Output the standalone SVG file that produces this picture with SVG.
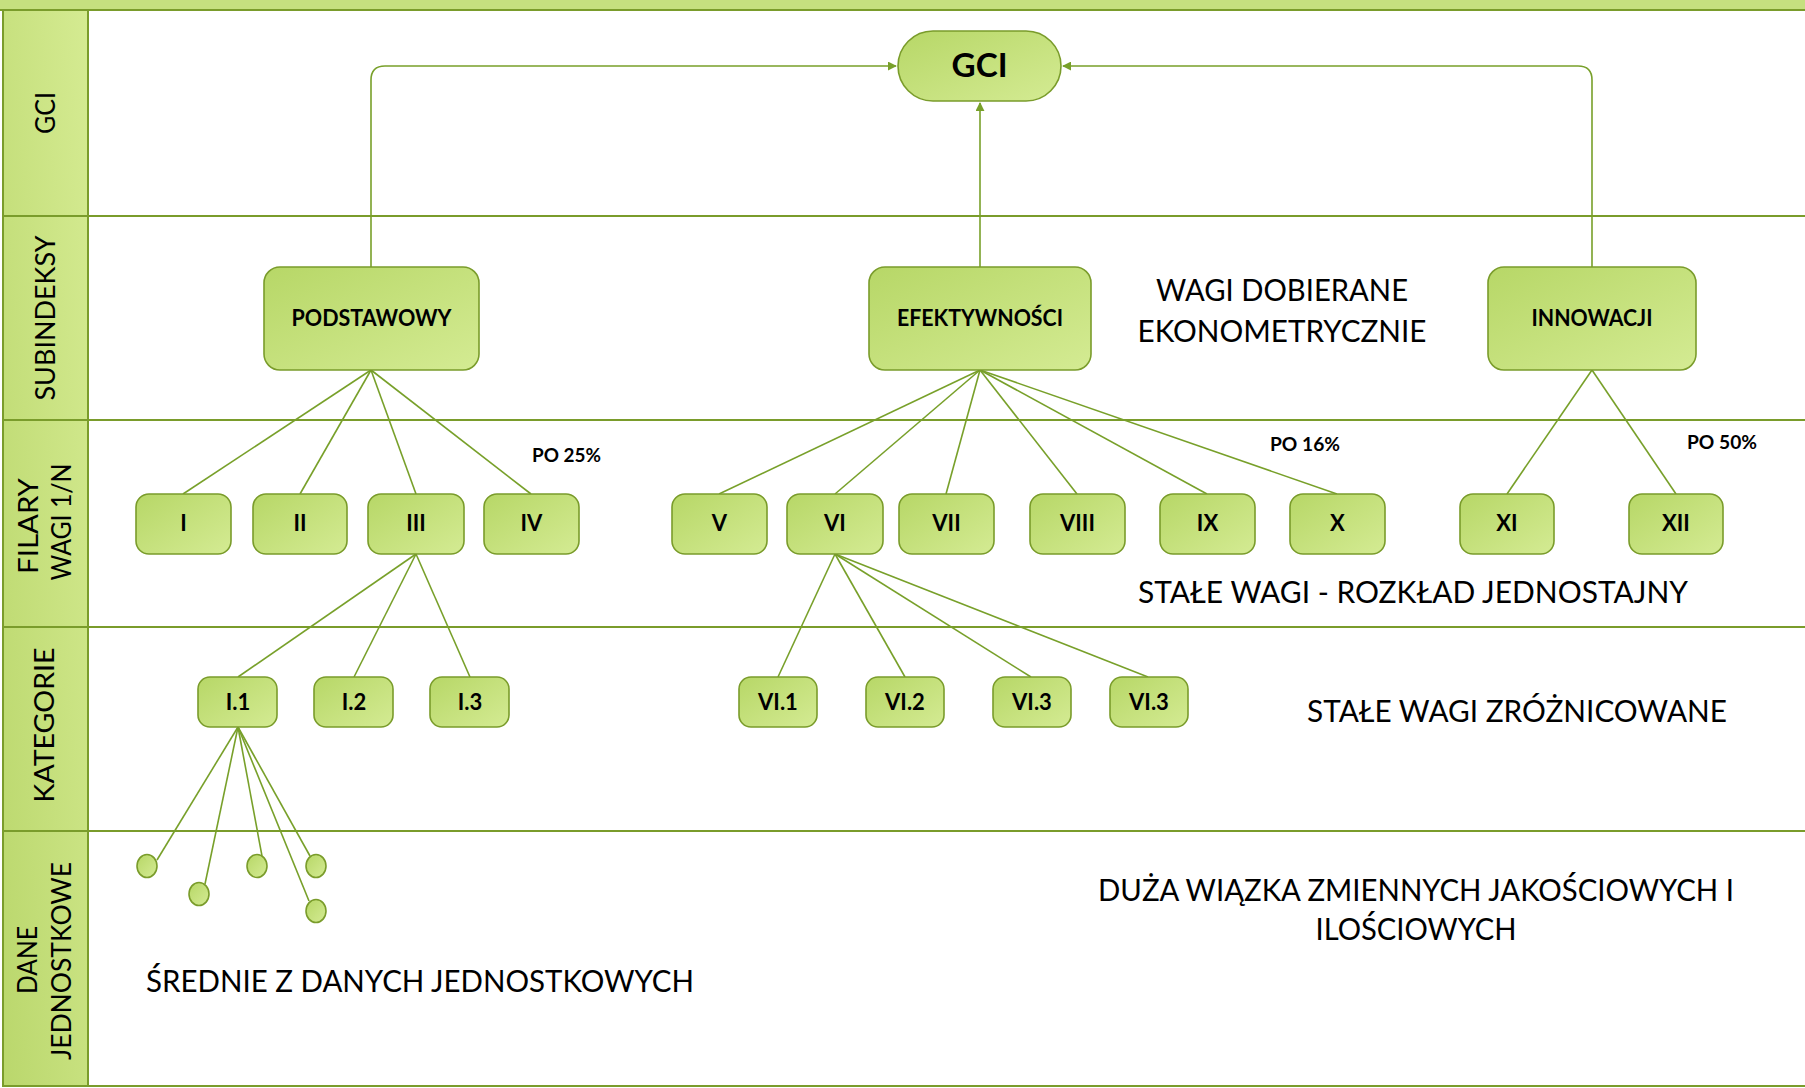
<svg xmlns="http://www.w3.org/2000/svg" width="1805" height="1088" viewBox="0 0 1805 1088">
<defs>
<linearGradient id="gNode" x1="0" y1="0" x2="1" y2="1">
<stop offset="0" stop-color="#b7d767"/>
<stop offset="1" stop-color="#d4eb93"/>
</linearGradient>
<linearGradient id="gCol" x1="1" y1="0" x2="0" y2="1">
<stop offset="0" stop-color="#d5eb92"/>
<stop offset="1" stop-color="#bad76c"/>
</linearGradient>
<marker id="arr" viewBox="0 0 10 10" refX="9" refY="5" markerWidth="9" markerHeight="9" markerUnits="userSpaceOnUse" orient="auto">
<path d="M0,0 L10,5 L0,10 Z" fill="#78a02a"/>
</marker>
<style>
.lane{stroke:#7a9c2b;stroke-width:2;fill:none}
.node{fill:url(#gNode);stroke:#7a9c2b;stroke-width:1.6}
.con{stroke:#78a02a;stroke-width:1.6;fill:none}
.lbl{font-family:Lato,"Open Sans","Liberation Sans",sans-serif;fill:#000;text-anchor:middle}
.b{font-weight:700}
.lane-t{font-family:Lato,"Open Sans","Liberation Sans",sans-serif;font-size:26px;fill:#000;text-anchor:middle}
.desc{font-family:Lato,"Open Sans","Liberation Sans",sans-serif;font-size:30px;fill:#000;text-anchor:middle}
.po{font-family:Lato,"Open Sans","Liberation Sans",sans-serif;font-size:18px;font-weight:700;fill:#000}
</style>
</defs>
<rect width="1805" height="1088" fill="#ffffff"/>

<g id="lanes">
<rect x="0" y="0" width="1805" height="10" fill="#c5e07f"/>
<line class="lane" x1="0" y1="10" x2="1805" y2="10"/>
<rect x="3" y="10" width="85" height="1076" fill="url(#gCol)" stroke="#7a9c2b" stroke-width="2"/>
<line class="lane" x1="3" y1="216" x2="1805" y2="216"/>
<line class="lane" x1="3" y1="420" x2="1805" y2="420"/>
<line class="lane" x1="3" y1="627" x2="1805" y2="627"/>
<line class="lane" x1="3" y1="831" x2="1805" y2="831"/>
<line class="lane" x1="3" y1="1086" x2="1805" y2="1086"/>
<text class="lane-t" transform="translate(55,113) rotate(-90)" textLength="42" lengthAdjust="spacingAndGlyphs">GCI</text>
<text class="lane-t" transform="translate(55,318) rotate(-90)" textLength="165" lengthAdjust="spacingAndGlyphs">SUBINDEKSY</text>
<text class="lane-t" transform="translate(38,526) rotate(-90)" textLength="96" lengthAdjust="spacingAndGlyphs">FILARY</text>
<text class="lane-t" transform="translate(71,522) rotate(-90)" textLength="117" lengthAdjust="spacingAndGlyphs">WAGI 1/N</text>
<text class="lane-t" transform="translate(54,725) rotate(-90)" textLength="155" lengthAdjust="spacingAndGlyphs">KATEGORIE</text>
<text class="lane-t" transform="translate(37,960) rotate(-90)" textLength="68" lengthAdjust="spacingAndGlyphs">DANE</text>
<text class="lane-t" transform="translate(71,961) rotate(-90)" textLength="198" lengthAdjust="spacingAndGlyphs">JEDNOSTKOWE</text>
</g>

<g id="connectors">
<path class="con" d="M371,267 V80 Q371,66 385,66 H896" marker-end="url(#arr)"/>
<path class="con" d="M1592,267 V80 Q1592,66 1578,66 H1063" marker-end="url(#arr)"/>
<path class="con" d="M980,267 V103" marker-end="url(#arr)"/>
<line class="con" x1="371" y1="370" x2="183" y2="494"/>
<line class="con" x1="371" y1="370" x2="300" y2="494"/>
<line class="con" x1="371" y1="370" x2="416" y2="494"/>
<line class="con" x1="371" y1="370" x2="531" y2="494"/>
<line class="con" x1="980" y1="370" x2="719" y2="494"/>
<line class="con" x1="980" y1="370" x2="835" y2="494"/>
<line class="con" x1="980" y1="370" x2="946" y2="494"/>
<line class="con" x1="980" y1="370" x2="1077" y2="494"/>
<line class="con" x1="980" y1="370" x2="1207" y2="494"/>
<line class="con" x1="980" y1="370" x2="1337" y2="494"/>
<line class="con" x1="1592" y1="370" x2="1507" y2="494"/>
<line class="con" x1="1592" y1="370" x2="1676" y2="494"/>
<line class="con" x1="416" y1="554" x2="238" y2="677"/>
<line class="con" x1="416" y1="554" x2="354" y2="677"/>
<line class="con" x1="416" y1="554" x2="470" y2="677"/>
<line class="con" x1="835" y1="554" x2="778" y2="677"/>
<line class="con" x1="835" y1="554" x2="905" y2="677"/>
<line class="con" x1="835" y1="554" x2="1031" y2="677"/>
<line class="con" x1="835" y1="554" x2="1148" y2="677"/>
<line class="con" x1="238" y1="727" x2="157" y2="860"/>
<line class="con" x1="238" y1="727" x2="205" y2="884"/>
<line class="con" x1="238" y1="727" x2="262" y2="856"/>
<line class="con" x1="238" y1="727" x2="310" y2="856"/>
<line class="con" x1="238" y1="727" x2="309" y2="901"/>
</g>

<g id="n-gci"><rect class="node" x="898" y="31" width="163" height="70" rx="35"/><text class="lbl b" x="979.5" y="77" font-size="33" textLength="56" lengthAdjust="spacingAndGlyphs">GCI</text></g>
<g id="n-podstawowy"><rect class="node" x="264" y="267" width="215" height="103" rx="16"/><text class="lbl b" x="371.5" y="326" font-size="23" textLength="160" lengthAdjust="spacingAndGlyphs">PODSTAWOWY</text></g>
<g id="n-efektywnosci"><rect class="node" x="869" y="267" width="222" height="103" rx="16"/><text class="lbl b" x="980" y="326" font-size="23" textLength="166" lengthAdjust="spacingAndGlyphs">EFEKTYWNOŚCI</text></g>
<g id="n-innowacji"><rect class="node" x="1488" y="267" width="208" height="103" rx="16"/><text class="lbl b" x="1592" y="326" font-size="23" textLength="121" lengthAdjust="spacingAndGlyphs">INNOWACJI</text></g>

<g id="n-I"><rect class="node" x="136" y="494" width="95" height="60" rx="13"/><text class="lbl b" x="183.5" y="531" font-size="22">I</text></g>
<g id="n-II"><rect class="node" x="253" y="494" width="94" height="60" rx="13"/><text class="lbl b" x="300" y="531" font-size="22">II</text></g>
<g id="n-III"><rect class="node" x="368" y="494" width="96" height="60" rx="13"/><text class="lbl b" x="416" y="531" font-size="22">III</text></g>
<g id="n-IV"><rect class="node" x="484" y="494" width="95" height="60" rx="13"/><text class="lbl b" x="531.5" y="531" font-size="22">IV</text></g>
<g id="n-V"><rect class="node" x="672" y="494" width="95" height="60" rx="13"/><text class="lbl b" x="719.5" y="531" font-size="22">V</text></g>
<g id="n-VI"><rect class="node" x="787" y="494" width="96" height="60" rx="13"/><text class="lbl b" x="835" y="531" font-size="22">VI</text></g>
<g id="n-VII"><rect class="node" x="899" y="494" width="95" height="60" rx="13"/><text class="lbl b" x="946.5" y="531" font-size="22">VII</text></g>
<g id="n-VIII"><rect class="node" x="1030" y="494" width="95" height="60" rx="13"/><text class="lbl b" x="1077.5" y="531" font-size="22">VIII</text></g>
<g id="n-IX"><rect class="node" x="1160" y="494" width="95" height="60" rx="13"/><text class="lbl b" x="1207.5" y="531" font-size="22">IX</text></g>
<g id="n-X"><rect class="node" x="1290" y="494" width="95" height="60" rx="13"/><text class="lbl b" x="1337.5" y="531" font-size="22">X</text></g>
<g id="n-XI"><rect class="node" x="1460" y="494" width="94" height="60" rx="13"/><text class="lbl b" x="1507" y="531" font-size="22">XI</text></g>
<g id="n-XII"><rect class="node" x="1629" y="494" width="94" height="60" rx="13"/><text class="lbl b" x="1676" y="531" font-size="22">XII</text></g>

<g id="n-I1"><rect class="node" x="198" y="677" width="79" height="50" rx="12"/><text class="lbl b" x="238" y="710" font-size="22">I.1</text></g>
<g id="n-I2"><rect class="node" x="314" y="677" width="79" height="50" rx="12"/><text class="lbl b" x="354" y="710" font-size="22">I.2</text></g>
<g id="n-I3"><rect class="node" x="430" y="677" width="79" height="50" rx="12"/><text class="lbl b" x="470" y="710" font-size="22">I.3</text></g>
<g id="n-VI1"><rect class="node" x="739" y="677" width="78" height="50" rx="12"/><text class="lbl b" x="778" y="710" font-size="22">VI.1</text></g>
<g id="n-VI2"><rect class="node" x="866" y="677" width="78" height="50" rx="12"/><text class="lbl b" x="905" y="710" font-size="22">VI.2</text></g>
<g id="n-VI3a"><rect class="node" x="993" y="677" width="78" height="50" rx="12"/><text class="lbl b" x="1032" y="710" font-size="22">VI.3</text></g>
<g id="n-VI3b"><rect class="node" x="1110" y="677" width="78" height="50" rx="12"/><text class="lbl b" x="1149" y="710" font-size="22">VI.3</text></g>

<g id="n-d1"><ellipse class="node" cx="147" cy="866" rx="10" ry="11.5"/></g>
<g id="n-d2"><ellipse class="node" cx="199" cy="894" rx="10" ry="11.5"/></g>
<g id="n-d3"><ellipse class="node" cx="257" cy="866" rx="10" ry="11.5"/></g>
<g id="n-d4"><ellipse class="node" cx="316" cy="866" rx="10" ry="11.5"/></g>
<g id="n-d5"><ellipse class="node" cx="316" cy="911" rx="10" ry="11.5"/></g>

<g id="texts">
<text class="desc" x="1282" y="301" textLength="252" lengthAdjust="spacingAndGlyphs">WAGI DOBIERANE</text>
<text class="desc" x="1282" y="342" textLength="289" lengthAdjust="spacingAndGlyphs">EKONOMETRYCZNIE</text>
<text class="desc" x="1413" y="603" textLength="550" lengthAdjust="spacingAndGlyphs">STAŁE WAGI - ROZKŁAD JEDNOSTAJNY</text>
<text class="desc" x="1517" y="722" textLength="420" lengthAdjust="spacingAndGlyphs">STAŁE WAGI ZRÓŻNICOWANE</text>
<text class="desc" x="1416" y="901" textLength="636" lengthAdjust="spacingAndGlyphs">DUŻA WIĄZKA ZMIENNYCH JAKOŚCIOWYCH I</text>
<text class="desc" x="1416" y="940" textLength="201" lengthAdjust="spacingAndGlyphs">ILOŚCIOWYCH</text>
<text class="desc" x="420" y="992" textLength="548" lengthAdjust="spacingAndGlyphs">ŚREDNIE Z DANYCH JEDNOSTKOWYCH</text>
<text class="po" x="532" y="462" textLength="69" lengthAdjust="spacingAndGlyphs">PO 25%</text>
<text class="po" x="1270" y="451" textLength="70" lengthAdjust="spacingAndGlyphs">PO 16%</text>
<text class="po" x="1687" y="449" textLength="70" lengthAdjust="spacingAndGlyphs">PO 50%</text>
</g>
</svg>
